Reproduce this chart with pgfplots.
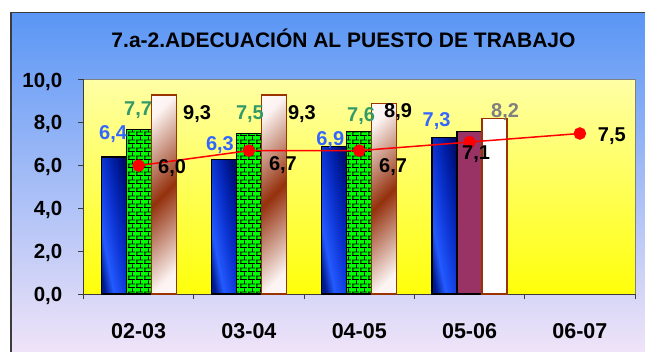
\documentclass[border=0pt]{standalone}
\usepackage{fontspec}
\setmainfont{Liberation Sans}
\usepackage{pgfplots}
\pgfplotsset{compat=1.18}
\usepackage{pgfplotstable}
\usetikzlibrary{patterns.meta}

\definecolor{navyedge}{RGB}{0,12,110}
\definecolor{navyleft}{RGB}{0,25,140}
\definecolor{brightblue}{RGB}{35,90,255}
\definecolor{midblue}{RGB}{15,55,215}
\definecolor{deepblue}{RGB}{0,30,165}
\definecolor{brickgreen}{RGB}{0,255,0}
\definecolor{rust}{RGB}{153,51,0}
\definecolor{rustdark}{RGB}{148,48,12}
\definecolor{rustpale}{RGB}{252,244,242}
\definecolor{plum}{RGB}{153,51,102}
\definecolor{lblblue}{RGB}{51,102,255}
\definecolor{lblgreen}{RGB}{51,153,102}
\definecolor{lblgray}{RGB}{128,128,128}
\definecolor{frameline}{RGB}{60,60,60}

% bar fills
\pgfdeclarehorizontalshading{bluebar}{100bp}{
  color(0bp)=(navyleft); color(25bp)=(navyleft); color(35bp)=(brightblue);
  color(50bp)=(midblue); color(64bp)=(deepblue); color(75bp)=(navyedge);
  color(100bp)=(navyedge)}
\pgfdeclarehorizontalshading{rustbar}{100bp}{
  color(0bp)=(white); color(22bp)=(rustpale); color(50bp)=(rustdark);
  color(78bp)=(rustpale); color(100bp)=(white)}

% small brick hatch for the second series
\tikzdeclarepattern{
  name=smallbricks,
  type=uncolored,
  bounding box={(0,0) and (8pt,8pt)},
  tile size={(8pt,8pt)},
  code={
    \draw[line width=1pt]
      (0,0.5pt) -- (8pt,0.5pt)
      (0,4.5pt) -- (8pt,4.5pt)
      (1pt,0.5pt) -- (1pt,4.5pt)
      (5pt,4.5pt) -- (5pt,8.5pt);
  }
}

% x = category index, y = value, dx/dy = label offset from the category
% centre and the top of the mark (pt)
\pgfplotstableread{
x y dx dy
0 6.4 -25.6 18
1 6.3 -29 8.5
2 6.9 -29 1.3
3 7.3 -33 11.1
}\seriesA
\pgfplotstableread{
x y dx dy
0 7.7 -0.6 14.2
1 7.5 1 13.5
2 7.6 1.8 9.7
}\seriesB
\pgfplotstableread{
x y
3 7.6
}\seriesBlast
\pgfplotstableread{
x y dx dy
0 9.3 58.4 -24.3
1 9.3 53 -24.3
2 8.9 38.8 -13.8
}\seriesC
\pgfplotstableread{
x y dx dy
3 8.2 35.5 1.2
}\seriesClast
\pgfplotstableread{
x y dx dy
0 6.0 33.4 -7.7
1 6.7 34 -20.1
2 6.7 33.8 -22.1
3 7.1 6.5 -17.2
4 7.5 32 -8.2
}\seriesLine

\pgfplotsset{
  vlabel/.style={
    nodes near coords,
    visualization depends on={\thisrow{dx} \as \dx},
    visualization depends on={\thisrow{dy} \as \dy},
    every node near coord/.append style={
      anchor=base, xshift=\dx pt, yshift=\dy pt, inner sep=0pt,
      font=\fontsize{20}{24}\selectfont\bfseries, text=#1},
  },
  colbar/.style={ybar, bar width=25pt, bar shift=#1, line width=1.2pt},
}

\begin{document}
\begin{tikzpicture}[x=1pt,y=1pt]
\useasboundingbox (0,0) rectangle (645,351);
\fill[white] (0,0) rectangle (645,351);
% chart area
\shade[top color={rgb,255:red,90;green,150;blue,245},
       middle color={rgb,255:red,180;green,202;blue,242},
       bottom color={rgb,255:red,248;green,232;blue,248}]
  (11,-20) rectangle (700,338.5);
\draw[frameline, line width=1.2pt] (11,-20) -- (11,338.5) -- (700,338.5);

\node[anchor=base, font=\fontsize{21}{25}\selectfont\bfseries]
  at (343.5,303) {7.a-2.ADECUACIÓN AL PUESTO DE TRABAJO};

\begin{axis}[
  at={(83.5pt,57pt)}, anchor=south west,
  scale only axis, width=551.5pt, height=214pt,
  xmin=-0.5, xmax=4.5, ymin=0, ymax=10,
  axis x line*=bottom, axis y line*=left,
  axis line style={-, draw=frameline, line width=1pt},
  axis background/.style={
    top color={rgb,255:red,255;green,255;blue,165},
    bottom color={rgb,255:red,255;green,255;blue,10},
    draw={rgb,255:red,128;green,128;blue,128}, line width=1pt},
  xtick={0,1,2,3,4},
  xticklabels={02-03,03-04,04-05,05-06,06-07},
  major x tick style={draw=none},
  minor xtick={-0.5,0.5,1.5,2.5,3.5,4.5},
  ytick={0,2,4,6,8,10},
  tick align=outside,
  major tick length=5pt, minor tick length=5pt,
  tick style={draw=frameline, line width=1pt},
  /pgf/number format/.cd, use comma, fixed, fixed zerofill, precision=1,
    assume math mode=true,
  /pgfplots/.cd,
  yticklabel style={anchor=east, inner sep=0pt, xshift=-16pt, text depth=0pt,
    font=\fontsize{20.5}{24}\selectfont\bfseries},
  xticklabel style={anchor=north, inner sep=0pt, yshift=-24pt,
    font=\fontsize{21.5}{25}\selectfont\bfseries},
  clip=false,
]
% first series: shaded blue, one bar at a time so each gets its own shading
\pgfplotsinvokeforeach{0,1,2,3}{
  \addplot[colbar=-25pt, draw=black, shade, shading=bluebar, shading angle=11,
    restrict x to domain=#1:#1, vlabel=lblblue] table[x=x,y=y] {\seriesA};
}
% second series: green with brick hatch
\addplot[colbar=0pt, draw=black,
  fill=brickgreen, postaction={pattern=smallbricks, pattern color=black},
  vlabel=lblgreen] table[x=x,y=y] {\seriesB};
\addplot[colbar=0pt, draw=black, fill=plum] table[x=x,y=y] {\seriesBlast};
% third series: diagonal rust shading
\pgfplotsinvokeforeach{0,1,2}{
  \addplot[colbar=25pt, draw=rust, shade, shading=rustbar, shading angle=-45,
    restrict x to domain=#1:#1, vlabel=black] table[x=x,y=y] {\seriesC};
}
\addplot[colbar=25pt, draw=rust, fill=white, vlabel=lblgray]
  table[x=x,y=y] {\seriesClast};
% overall line
\addplot[sharp plot, red, line width=1.5pt, mark=*, mark size=5.5pt,
  mark options={solid, fill=red, draw=red},
  vlabel=black] table[x=x,y=y] {\seriesLine};
\end{axis}
\end{tikzpicture}
\end{document}
